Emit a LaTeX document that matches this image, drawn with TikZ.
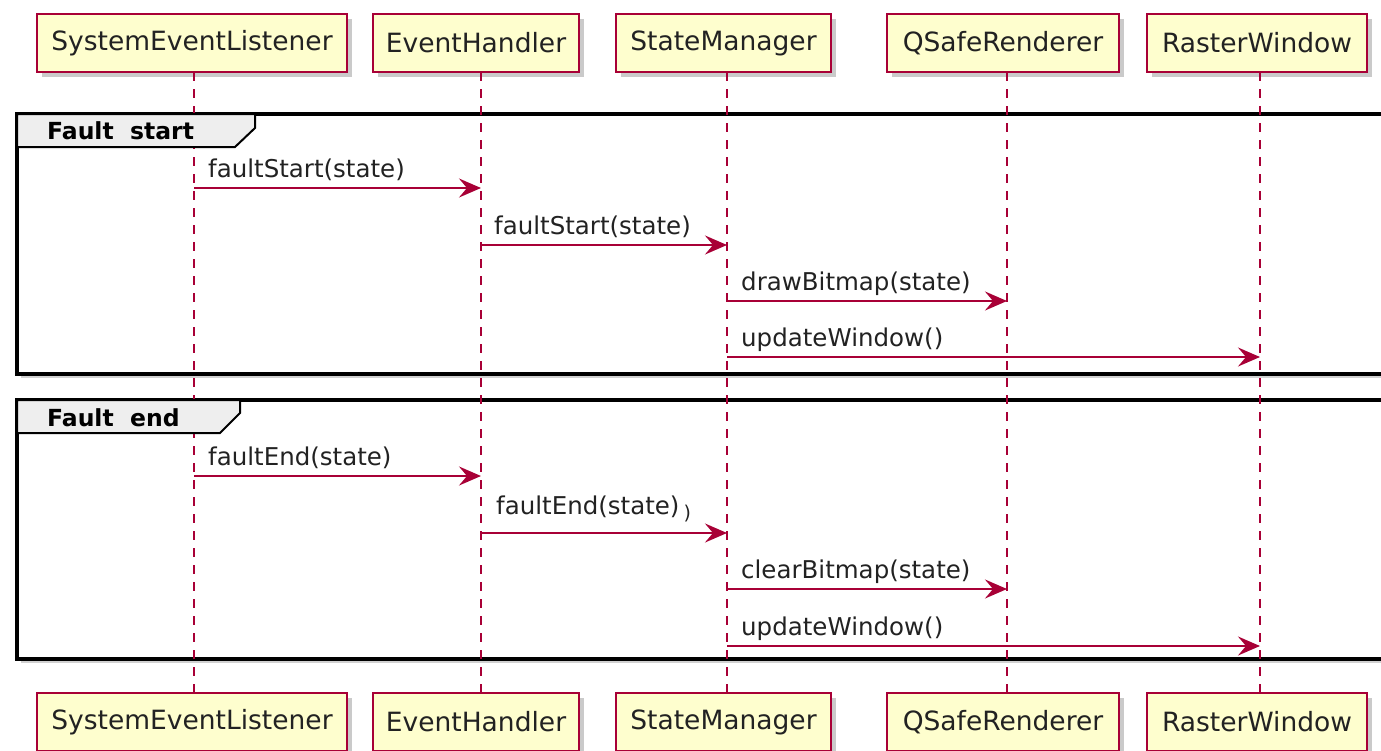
\documentclass[tikz,border=0pt]{standalone}
\usepackage{fontspec}
\setmainfont{DejaVu Sans}
\usetikzlibrary{arrows.meta,shadows}
\definecolor{umlred}{HTML}{A80036}
\definecolor{umlfill}{HTML}{FEFECE}
\definecolor{tabfill}{HTML}{EEEEEE}
\definecolor{umltext}{HTML}{222222}

\tikzset{
  participant/.style={draw=umlred, fill=umlfill, line width=2.2pt,
    minimum height=58pt, inner sep=0pt, text=umltext,
    font=\fontsize{26.5}{30}\selectfont,
    drop shadow={shadow xshift=5pt, shadow yshift=-5pt, opacity=.35, fill=black!60}},
  lifeline/.style={draw=umlred, line width=1.8pt, dash pattern=on 9pt off 8pt},
  msg/.style={draw=umlred, line width=1.8pt,
    -{Stealth[length=22pt, width=19pt, inset=8pt]}},
  msglabel/.style={anchor=base west, inner sep=0pt, text=umltext,
    font=\fontsize{24.5}{28}\selectfont},
  groupframe/.style={draw=black, line width=3.2pt, fill=white,
    drop shadow={shadow xshift=4pt, shadow yshift=-4pt, opacity=.3, fill=black!60}},
  grouptab/.style={draw=black, line width=2pt, fill=tabfill},
  grouptitle/.style={anchor=base west, inner sep=0pt, text=black,
    font=\fontsize{23.5}{26}\selectfont\bfseries},
}

\begin{document}
\begin{tikzpicture}[x=1pt, y=-1pt]
\useasboundingbox (0,0) rectangle (1381,750);
\clip (0,0) rectangle (1381,750);

% participants, head and foot
\node[participant, minimum width=310pt] (selT) at (192,43)  {SystemEventListener};
\node[participant, minimum width=206pt] (ehT)  at (476,43)  {EventHandler};
\node[participant, minimum width=215pt] (smT)  at (723.5,43) {StateManager};
\node[participant, minimum width=232pt] (qsT)  at (1003,43) {QSafeRenderer};
\node[participant, minimum width=220pt] (rwT)  at (1257,43) {RasterWindow};

\node[participant, minimum width=310pt] (selB) at (192,722)  {SystemEventListener};
\node[participant, minimum width=206pt] (ehB)  at (476,722)  {EventHandler};
\node[participant, minimum width=215pt] (smB)  at (723.5,722) {StateManager};
\node[participant, minimum width=232pt] (qsB)  at (1003,722) {QSafeRenderer};
\node[participant, minimum width=220pt] (rwB)  at (1257,722) {RasterWindow};

% lifeline anchors
\coordinate (L1) at (194,72);
\coordinate (L2) at (481,72);
\coordinate (L3) at (727,72);
\coordinate (L4) at (1007,72);
\coordinate (L5) at (1260,72);

% group frames
\path[groupframe] (17,114) rectangle (1400,374);
\path[groupframe] (17,400) rectangle (1400,659);

% lifelines
\draw[lifeline] (L1) -- (L1 |- selB.north);
\draw[lifeline] (L2) -- (L2 |- ehB.north);
\draw[lifeline] (L3) -- (L3 |- smB.north);
\draw[lifeline] (L4) -- (L4 |- qsB.north);
\draw[lifeline] (L5) -- (L5 |- rwB.north);

% group tabs
\draw[grouptab] (17,114) -- (255,114) -- (255,128) -- (235,147) -- (17,147) -- cycle;
\node[grouptitle] (g1) at (47,139) {Fault\ \ start};
\draw[grouptab] (17,400) -- (240,400) -- (240,413) -- (220,433) -- (17,433) -- cycle;
\node[grouptitle] (g2) at (47,426) {Fault\ \ end};

% messages: Fault start
\draw[msg] (L1 |- 0,188) -- (L2 |- 0,188);
\node[msglabel] (m1) at (208,177) {faultStart(state)};
\draw[msg] (L2 |- 0,245) -- (L3 |- 0,245);
\node[msglabel] (m2) at (494,234) {faultStart(state)};
\draw[msg] (L3 |- 0,301) -- (L4 |- 0,301);
\node[msglabel] (m3) at (741,290) {drawBitmap(state)};
\draw[msg] (L3 |- 0,357) -- (L5 |- 0,357);
\node[msglabel] (m4) at (741,346) {updateWindow()};

% messages: Fault end
\draw[msg] (L1 |- 0,476) -- (L2 |- 0,476);
\node[msglabel] (m5) at (208,465) {faultEnd(state)};
\draw[msg] (L2 |- 0,533) -- (L3 |- 0,533);
\node[msglabel] (m6) at (496,514) {faultEnd(state)\kern4pt\raisebox{-5pt}{\fontsize{19}{20}\selectfont)}};
\draw[msg] (L3 |- 0,589) -- (L4 |- 0,589);
\node[msglabel] (m7) at (741,578) {clearBitmap(state)};
\draw[msg] (L3 |- 0,646) -- (L5 |- 0,646);
\node[msglabel] (m8) at (741,635) {updateWindow()};
\end{tikzpicture}
\end{document}
